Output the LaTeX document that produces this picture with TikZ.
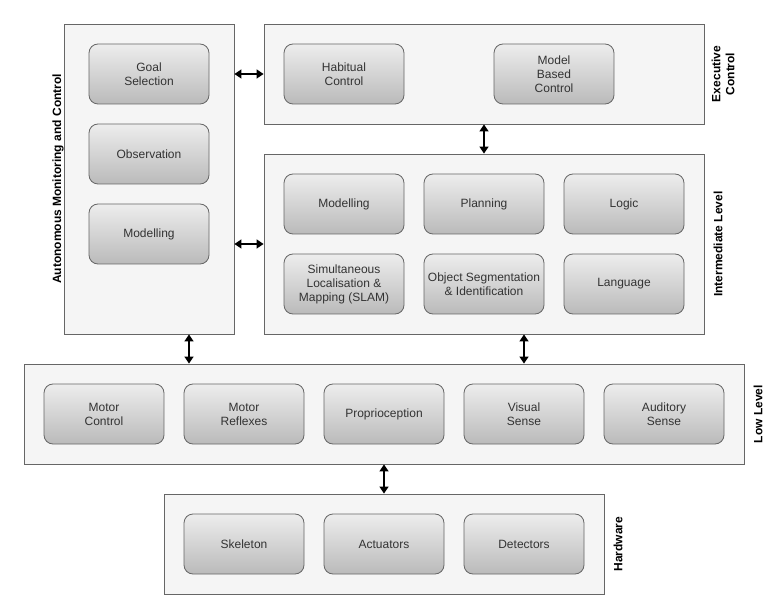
\documentclass[tikz,border=0pt]{standalone}
\usepackage{fontspec}
\setmainfont{Liberation Sans}
\usetikzlibrary{arrows.meta}

\begin{document}
\begin{tikzpicture}[x=1pt, y=-1pt,
    every node/.style={font=\fontsize{12}{14}\selectfont, text=black!80, align=center},
    layer/.style={draw=black!60, line width=0.8pt, fill=black!4, inner sep=0pt},
    block/.style={draw=black!60, line width=0.8pt, rounded corners=9pt, top color=black!7, bottom color=black!27,
        minimum width=120pt, minimum height=60pt, inner sep=2pt},
    tag/.style={rotate=90, font=\bfseries\fontsize{12}{14}\selectfont, text=black},
    link/.style={{Triangle[length=7pt,width=9pt]}-{Triangle[length=7pt,width=9pt]}, line width=1.4pt}]
    \useasboundingbox (0,0) rectangle (782,612);

    % Layers
    \node[layer, minimum width=170pt, minimum height=310pt] (amc) at (149,179) {};
    \node[layer, minimum width=440pt, minimum height=100pt] (exec) at (484,74) {};
    \node[layer, minimum width=440pt, minimum height=180pt] (inter) at (484,244) {};
    \node[layer, minimum width=720pt, minimum height=100pt] (low) at (384,414) {};
    \node[layer, minimum width=440pt, minimum height=100pt] (hw) at (384,544) {};

    % Layer titles
    \node[tag] (amctag) at (58,179) {Autonomous Monitoring and Control};
    \node[tag] (exectag) at (723,74) {Executive\\Control};
    \node[tag] (intertag) at (718,244) {Intermediate Level};
    \node[tag] (lowtag) at (758,414) {Low Level};
    \node[tag] (hwtag) at (618,544) {Hardware};

    % Autonomous monitoring and control
    \node[block] (goal) at (149,74) {Goal\\Selection};
    \node[block] (obs) at (149,154) {Observation};
    \node[block] (amcmod) at (149,234) {Modelling};

    % Executive control
    \node[block] (habit) at (344,74) {Habitual\\Control};
    \node[block] (model) at (554,74) {Model\\Based\\Control};

    % Intermediate level
    \node[block] (mod) at (344,204) {Modelling};
    \node[block] (plan) at (484,204) {Planning};
    \node[block] (logic) at (624,204) {Logic};
    \node[block] (slam) at (344,284) {Simultaneous\\Localisation \&\\Mapping (SLAM)};
    \node[block] (objseg) at (484,284) {Object Segmentation\\\& Identification};
    \node[block] (lang) at (624,284) {Language};

    % Low level
    \node[block] (motor) at (104,414) {Motor\\Control};
    \node[block] (reflex) at (244,414) {Motor\\Reflexes};
    \node[block] (proprio) at (384,414) {Proprioception};
    \node[block] (visual) at (524,414) {Visual\\Sense};
    \node[block] (audio) at (664,414) {Auditory\\Sense};

    % Hardware
    \node[block] (skel) at (244,544) {Skeleton};
    \node[block] (act) at (384,544) {Actuators};
    \node[block] (det) at (524,544) {Detectors};

    % Links between layers
    \draw[link] (amc.east |- exec) -- (exec.west);
    \draw[link] (amc.east |- inter) -- (inter.west);
    \draw[link] (exec.south) -- (inter.north);
    \draw[link] ([xshift=40pt]amc.south) -- ([xshift=40pt]amc.south |- low.north);
    \draw[link] ([xshift=40pt]inter.south) -- ([xshift=40pt]inter.south |- low.north);
    \draw[link] (low.south) -- (hw.north);
\end{tikzpicture}
\end{document}
